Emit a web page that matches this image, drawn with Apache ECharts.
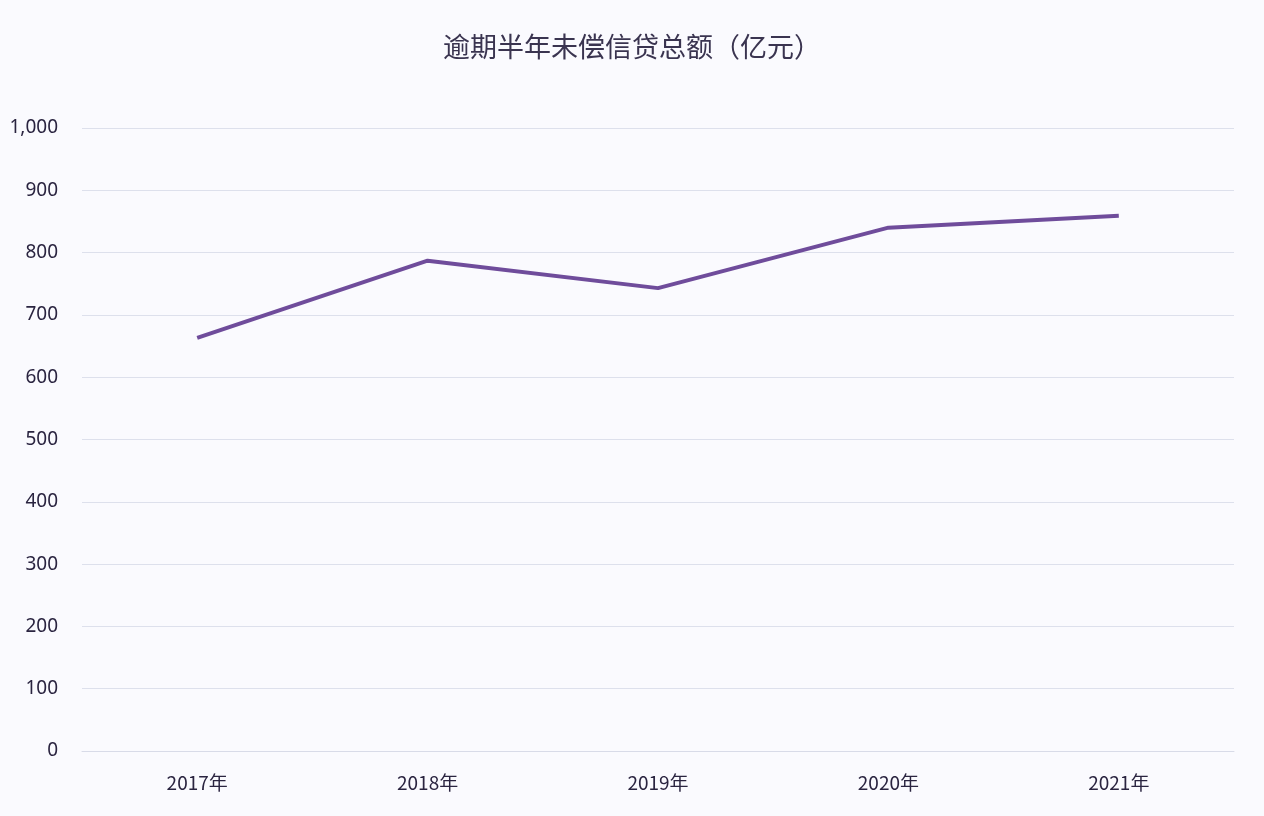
<!DOCTYPE html>
<html><head><meta charset="utf-8">
<script src="https://cdn.jsdelivr.net/npm/echarts@6/dist/echarts.min.js"></script>
<style>html,body{margin:0;padding:0;background:#fafafe}#c{width:1264px;height:816px}</style>
</head><body><div id="c"></div>
<script>
const categories = ['2017年','2018年','2019年','2020年','2021年'];
const values = [663, 787, 743, 840, 859];
const chart = echarts.init(document.getElementById('c'));
chart.setOption({
  backgroundColor: '#fafafe',
  title: { text: '逾期半年未偿信贷总额（亿元）', left: 'center', top: 28,
    textStyle: { fontFamily: 'Noto Sans CJK SC', fontSize: 27, fontWeight: 'normal', color: '#3a3450' } },
  grid: { left: 82, right: 30, top: 128, bottom: 65 },
  xAxis: { type: 'category', data: categories, boundaryGap: true,
    axisLine: { lineStyle: { color: '#d8dbe8' } }, axisTick: { show: false },
    axisLabel: { color: '#2a2440', fontSize: 19, margin: 22, fontFamily: 'Noto Sans CJK SC' } },
  yAxis: { type: 'value', min: 0, max: 1000, interval: 100,
    axisLine: { show: false }, axisTick: { show: false },
    splitLine: { lineStyle: { color: '#dde0ec' } },
    axisLabel: { color: '#2a2440', fontSize: 19, margin: 24, fontFamily: 'Noto Sans' } },
  series: [{ type: 'line', data: values, symbol: 'none',
    lineStyle: { color: '#6f4c9b', width: 4 } }]
});
</script></body></html>
